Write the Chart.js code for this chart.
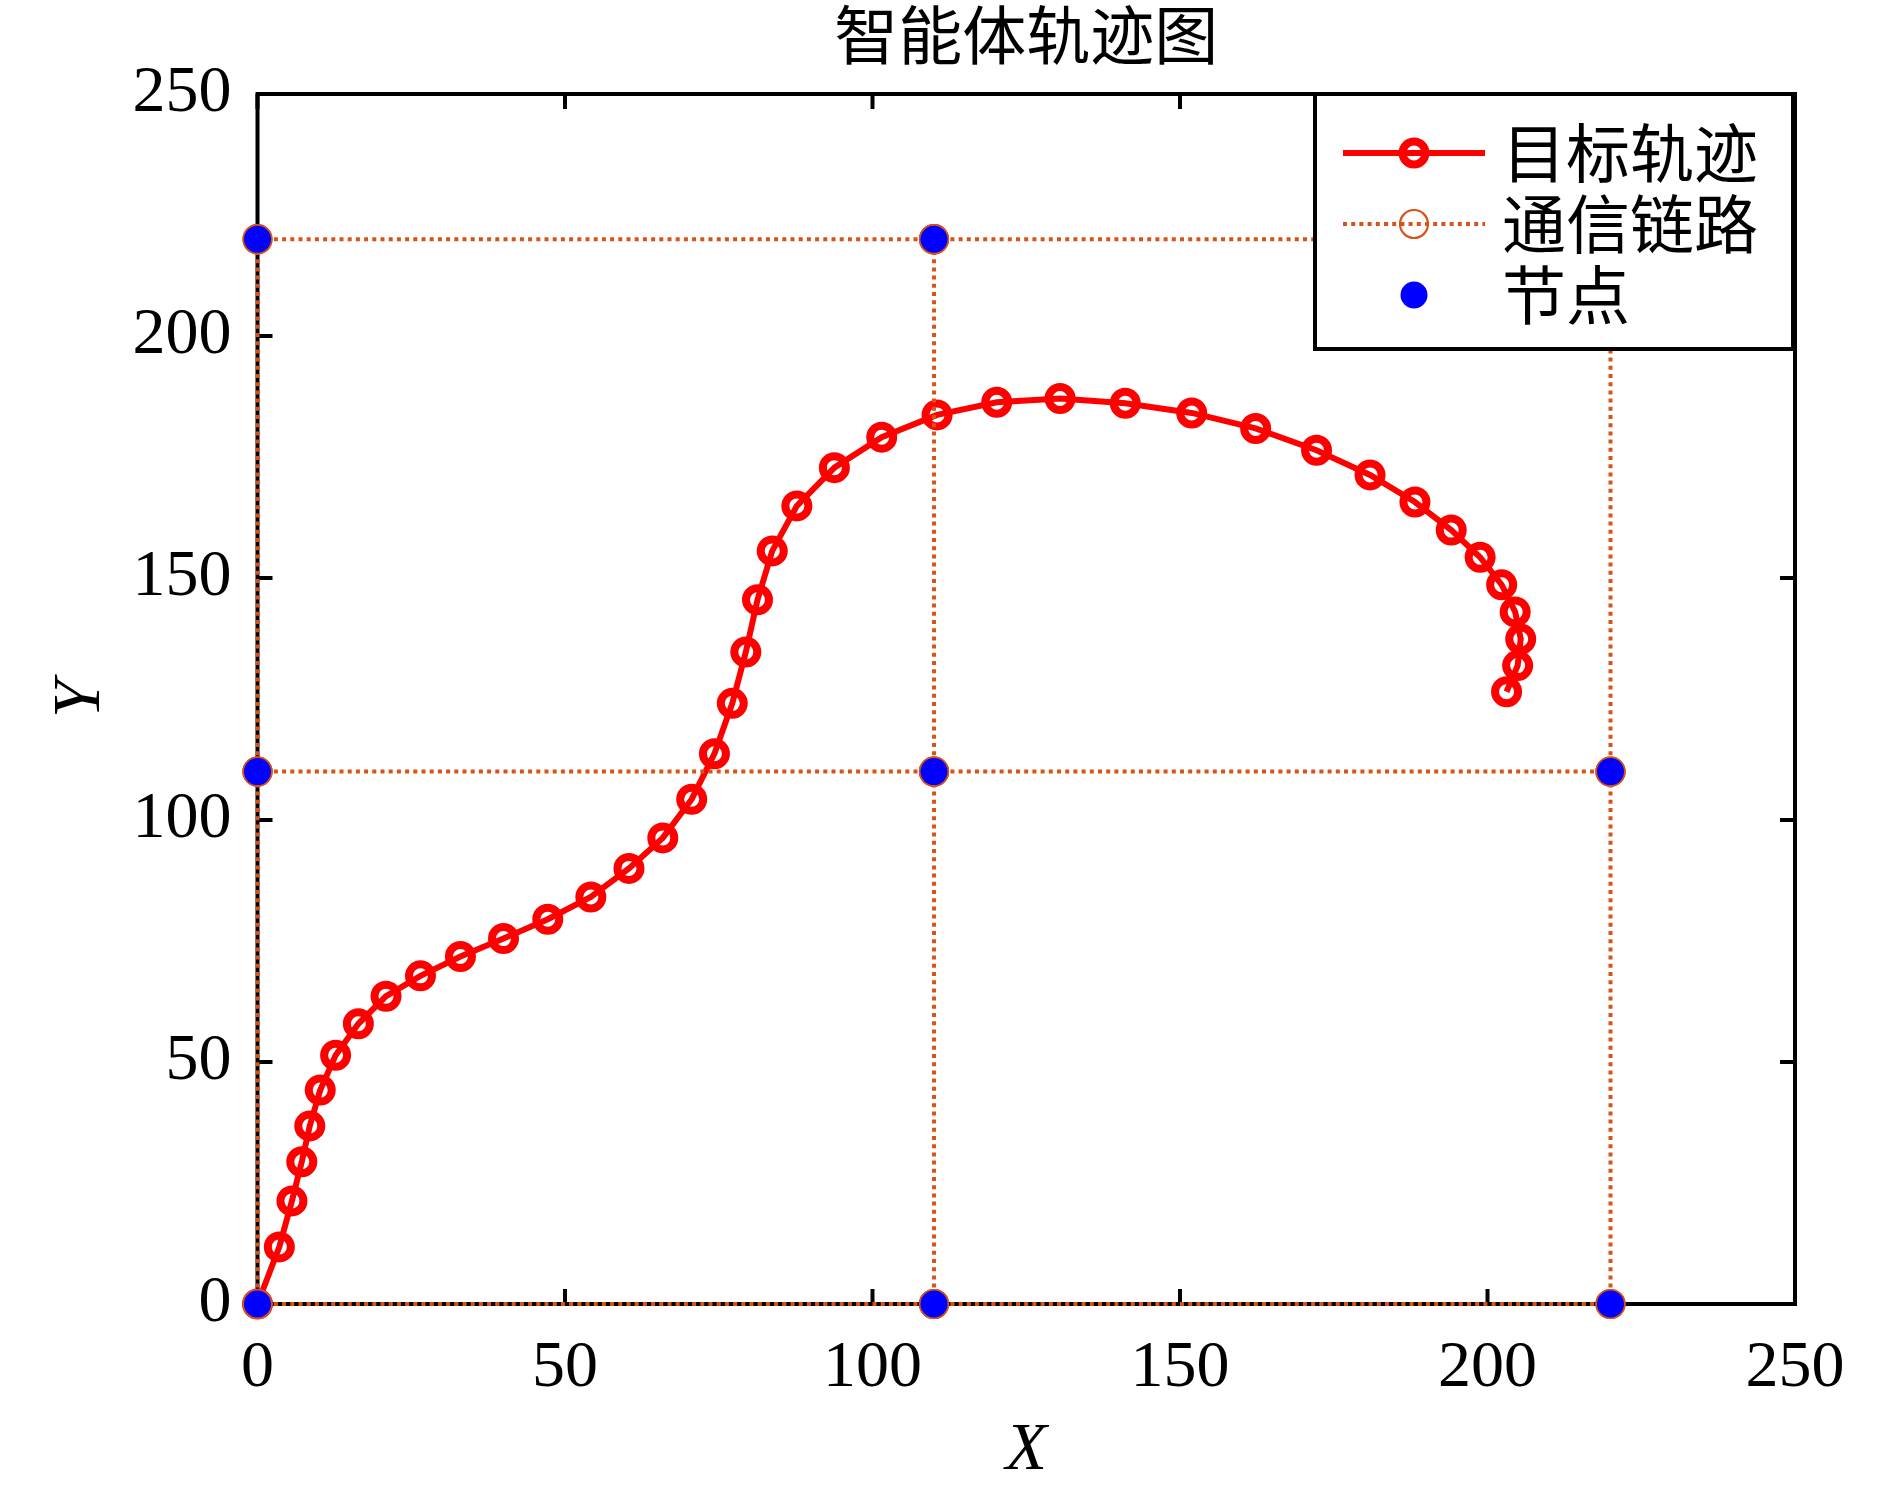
<!DOCTYPE html>
<html>
<head>
<meta charset="utf-8">
<script src="https://cdn.jsdelivr.net/npm/chart.js@4.4.1/dist/chart.umd.min.js"></script>
<style>
  html, body { margin: 0; padding: 0; background: #ffffff; }
  #wrap { width: 1890px; height: 1488px; }
  canvas { display: block; }
</style>
</head>
<body>
<div id="wrap"><canvas id="c" width="1890" height="1488"></canvas></div>
<script>
// ---- data ----
const chartTitle = '智能体轨迹图';
const xAxisTitle = 'X';
const yAxisTitle = 'Y';
const seriesNames = ['目标轨迹', '通信链路', '节点'];
const xTickValues = [0, 50, 100, 150, 200, 250];
const yTickValues = [0, 50, 100, 150, 200, 250];

const trajX = [0, 3.55, 5.6, 7.2, 8.5, 10.2, 12.7, 16.4, 20.9, 26.5, 33.0, 40.0, 47.2, 54.2, 60.4, 65.9, 70.6, 74.3, 77.2, 79.4, 81.3, 83.7, 87.7, 93.8, 101.5, 110.5, 120.2, 130.5, 141.1, 151.9, 162.3, 172.2, 180.9, 188.2, 194.1, 198.8, 202.3, 204.5, 205.4, 204.9, 203.1];
const trajY = [0, 11.8, 21.3, 29.4, 36.8, 44.2, 51.4, 57.9, 63.6, 67.8, 71.8, 75.5, 79.5, 84.1, 90.0, 96.3, 104.3, 113.7, 124.1, 134.7, 145.5, 155.6, 164.9, 172.8, 179.1, 183.7, 186.3, 187.1, 186.1, 184.1, 180.9, 176.4, 171.3, 165.7, 159.9, 154.3, 148.6, 143.0, 137.4, 131.9, 126.5];

const nodeX = [0, 0, 0, 110, 110, 110, 220, 220, 220];
const nodeY = [0, 110, 220, 0, 110, 220, 0, 110, 220];

const linkFrom = [0, 3, 1, 4, 2, 5, 0, 1, 3, 4, 6, 7];
const linkTo   = [3, 6, 4, 7, 5, 8, 1, 2, 4, 5, 7, 8];

// ---- build library data ----
const trajData = trajX.map((x, i) => ({ x: x, y: trajY[i] }));
const nodeData = nodeX.map((x, i) => ({ x: x, y: nodeY[i] }));
const linkData = [];
linkFrom.forEach((a, i) => {
  const b = linkTo[i];
  if (i > 0) linkData.push({ x: NaN, y: NaN });
  linkData.push({ x: nodeX[a], y: nodeY[a] });
  linkData.push({ x: nodeX[b], y: nodeY[b] });
});

const RED = '#FF0000';
const ORANGE = '#D95319';
const BLUE = '#0000FF';
const tickFont = { family: '"Liberation Serif", "Times New Roman", serif', size: 66 };
const axisTitleFont = { family: '"Liberation Serif", "Times New Roman", serif', size: 68, style: 'italic', lineHeight: 1 };
const cjkFamily = '"Noto Sans CJK SC", "Noto Sans CJK JP", sans-serif';

const framePlugin = {
  id: 'frameTicks',
  beforeDatasetsDraw(chart) {
    const { ctx, chartArea: a, scales } = chart;
    const xs = scales.x, ys = scales.y;
    const tl = 15;
    ctx.save();
    ctx.strokeStyle = '#000';
    ctx.lineWidth = 4;
    ctx.strokeRect(a.left, a.top, a.right - a.left, a.bottom - a.top);
    ctx.beginPath();
    xs.ticks.forEach(t => {
      const p = xs.getPixelForValue(t.value);
      ctx.moveTo(p, a.bottom); ctx.lineTo(p, a.bottom - tl);
      ctx.moveTo(p, a.top); ctx.lineTo(p, a.top + tl);
    });
    ys.ticks.forEach(t => {
      const p = ys.getPixelForValue(t.value);
      ctx.moveTo(a.left, p); ctx.lineTo(a.left + tl, p);
      ctx.moveTo(a.right, p); ctx.lineTo(a.right - tl, p);
    });
    ctx.stroke();
    ctx.restore();
  }
};

const legendPlugin = {
  id: 'boxLegend',
  afterDraw(chart) {
    const { ctx, chartArea: a } = chart;
    const ds = chart.data.datasets;
    const w = 478, h = 255;
    const L = a.right - w - 2, T = a.top;
    ctx.save();
    ctx.fillStyle = '#fff';
    ctx.fillRect(L, T, w, h);
    ctx.strokeStyle = '#000';
    ctx.lineWidth = 4;
    ctx.strokeRect(L, T, w, h);
    const rows = [59, 130, 201];
    const x0 = L + 28, x1 = L + 170, xm = L + 99;
    ds.forEach((d, i) => {
      const yy = T + rows[i];
      if (d.showLine) {
        ctx.beginPath();
        ctx.setLineDash(d.borderDash || []);
        ctx.lineWidth = d.borderWidth;
        ctx.strokeStyle = d.borderColor;
        ctx.moveTo(x0, yy); ctx.lineTo(x1, yy);
        ctx.stroke();
        ctx.setLineDash([]);
      }
      ctx.beginPath();
      ctx.arc(xm, yy, d.pointRadius, 0, Math.PI * 2);
      if (d.pointBackgroundColor && d.pointBackgroundColor !== 'rgba(0,0,0,0)') {
        ctx.fillStyle = d.pointBackgroundColor;
        ctx.fill();
      }
      if (d.pointBorderWidth) {
        ctx.lineWidth = d.pointBorderWidth;
        ctx.strokeStyle = d.pointBorderColor;
        ctx.stroke();
      }
      ctx.fillStyle = '#000';
      ctx.font = '64px ' + cjkFamily;
      ctx.textBaseline = 'middle';
      ctx.textAlign = 'left';
      ctx.fillText(d.label, L + 187, yy);
    });
    ctx.restore();
  }
};

function draw() {
  new Chart(document.getElementById('c'), {
    type: 'scatter',
    data: {
      datasets: [
        {
          label: seriesNames[0],
          data: trajData,
          showLine: true,
          borderColor: RED,
          borderWidth: 6,
          pointRadius: 11.5,
          pointHoverRadius: 11.5,
          pointBorderWidth: 8,
          pointBorderColor: RED,
          pointBackgroundColor: 'rgba(0,0,0,0)',
          tension: 0,
          clip: false,
          order: 2
        },
        {
          label: seriesNames[1],
          data: linkData,
          showLine: true,
          spanGaps: false,
          borderColor: ORANGE,
          borderWidth: 4,
          borderDash: [4, 4.2],
          pointRadius: 14,
          pointHoverRadius: 14,
          pointBorderWidth: 2.2,
          pointBorderColor: ORANGE,
          pointBackgroundColor: 'rgba(0,0,0,0)',
          clip: false,
          order: 1
        },
        {
          label: seriesNames[2],
          data: nodeData,
          showLine: false,
          pointRadius: 13.5,
          pointHoverRadius: 13.5,
          pointBorderWidth: 0,
          pointBackgroundColor: BLUE,
          pointBorderColor: BLUE,
          clip: false,
          order: 0
        }
      ]
    },
    options: {
      responsive: false,
      devicePixelRatio: 1,
      animation: false,
      events: [],
      layout: { padding: { left: 0, right: 95, top: 0, bottom: 0 } },
      plugins: {
        legend: { display: false },
        tooltip: { enabled: false },
        title: {
          display: true,
          fullSize: false,
          text: chartTitle,
          color: '#000',
          font: { family: cjkFamily, size: 64, weight: 'normal', lineHeight: 1 },
          padding: { top: 2.5, bottom: 27.5 }
        }
      },
      scales: {
        x: {
          type: 'linear',
          position: 'bottom',
          min: 0, max: 250,
          afterBuildTicks: s => { s.ticks = xTickValues.map(v => ({ value: v })); },
          afterFit: s => { s.height = 184; },
          grid: { display: false, drawTicks: false },
          border: { display: false },
          ticks: { color: '#000', font: tickFont, padding: 25, maxRotation: 0, autoSkip: false },
          title: { display: true, text: xAxisTitle, color: '#000', font: axisTitleFont, padding: { top: 0, bottom: 3 } }
        },
        y: {
          type: 'linear',
          position: 'left',
          min: 0, max: 250,
          afterBuildTicks: s => { s.ticks = yTickValues.map(v => ({ value: v })); },
          afterFit: s => { s.width = 257.5; },
          grid: { display: false, drawTicks: false },
          border: { display: false },
          ticks: { color: '#000', font: tickFont, padding: 26, autoSkip: false },
          title: { display: true, text: yAxisTitle, color: '#000', font: axisTitleFont, padding: { top: 47.5, bottom: 0 } }
        }
      }
    },
    plugins: [framePlugin, legendPlugin]
  });
}

const fontLoads = [
  document.fonts.load('64px "Noto Sans CJK SC"', chartTitle + seriesNames.join('')),
  document.fonts.load('66px "Liberation Serif"', '0123456789'),
  document.fonts.load('italic 68px "Liberation Serif"', 'XY')
];
Promise.all(fontLoads).then(draw, draw);
</script>
</body>
</html>
